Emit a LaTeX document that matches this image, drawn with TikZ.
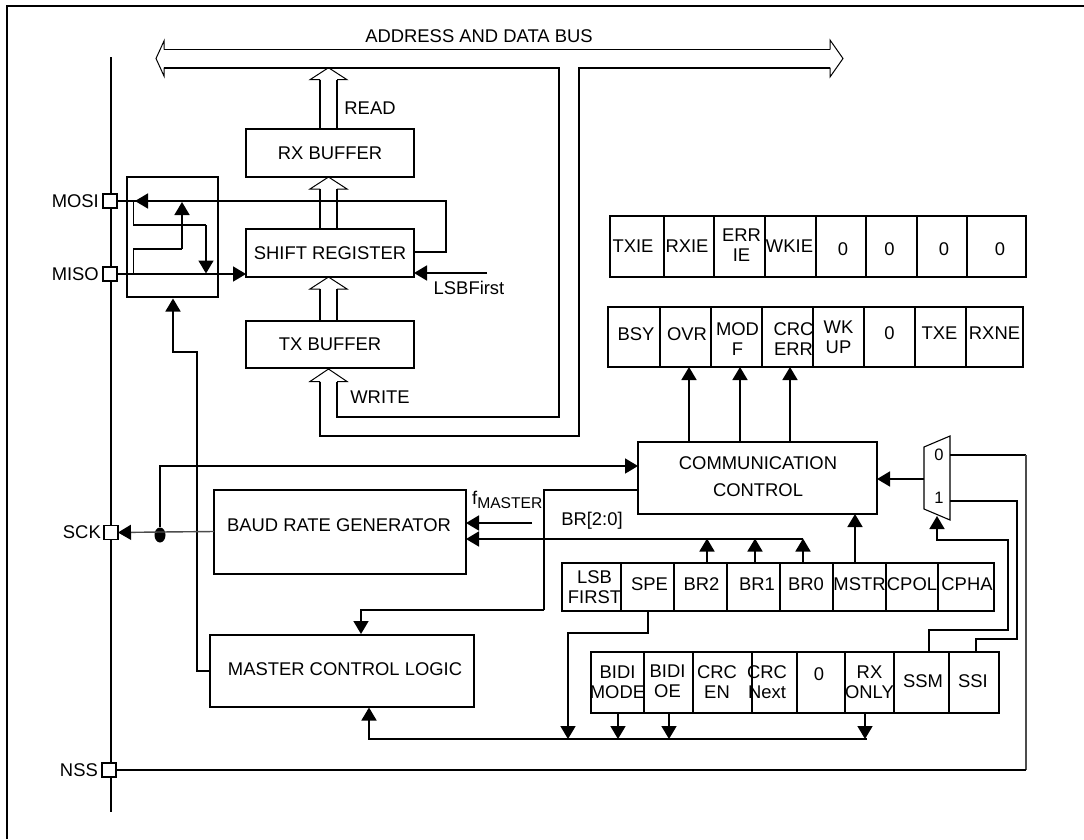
\documentclass[tikz,border=0pt]{standalone}
\usepackage{fontspec}
\setmainfont{Liberation Sans}
\usetikzlibrary{arrows.meta,calc,shapes.geometric}
\tikzset{
  wire/.style={line width=1.7pt,line join=miter},
  arr/.style={wire,-{Triangle[length=13pt,width=15pt]}},
  thinhead/.style={line width=1pt,line join=miter},
  txt/.style={font=\fontsize{18.4}{20}\selectfont,inner sep=0pt,align=center},
  boxn/.style={draw,line width=1.7pt,inner sep=0pt,outer sep=0pt,font=\fontsize{18.4}{20}\selectfont,align=center},
  cellbox/.style={draw,line width=1.7pt,inner sep=0pt,outer sep=0pt},
  pin/.style={draw,fill=white,line width=1.7pt,minimum size=14pt,inner sep=0pt,outer sep=0pt},
}
% name, x1, y1, x2, y2, extra options, dx, dy, text
\newcommand\regcell[9]{%
  \node[cellbox,#6,minimum width={(#4-#2)*1pt},minimum height={(#5-#3)*1pt},
    label={[txt,xshift=#7pt,yshift=#8pt,name=#1t]center:{#9}}]
    (#1) at ({(#2+#4)/2},{(#3+#5)/2}) {};}
\newcommand\fatup[2]{%
  \draw[wire] (sl |- #1) -- ($(sl |- #2)+(0,12)$);
  \draw[wire] (sr |- #1) -- ($(sr |- #2)+(0,12)$);
  \draw[thinhead] ($(sl |- #2)+(0,12)$) -- ++(-10,0) -- (sc |- #2) -- ($(sr |- #2)+(10,12)$) -- ++(-10,0);}
\begin{document}
\begin{tikzpicture}[x=1pt,y=-1pt]
\useasboundingbox (0,0) rectangle (1084,839);
% frame
\draw[wire] (7,839) -- (7,6) -- (1084,6);
% fat-arrow axes
\coordinate (sl) at (320,0); \coordinate (sc) at (328.5,0); \coordinate (sr) at (337,0);
% rail
\coordinate (railtop) at (111,57); \coordinate (railbot) at (111,812);
\draw[wire] (railtop) -- (railbot);
% main boxes
\node[boxn,minimum width=168pt,minimum height=48pt] (rx) at (330,153) {RX BUFFER};
\node[boxn,minimum width=168pt,minimum height=48pt] (sh) at (330,253) {SHIFT REGISTER};
\node[boxn,minimum width=168pt,minimum height=47pt] (tx) at (330,344.5) {TX BUFFER};
\node[draw,line width=1.7pt,minimum width=91pt,minimum height=120pt,inner sep=0pt,outer sep=0pt] (sw) at (172.5,237) {};
\node[boxn,minimum width=252pt,minimum height=84pt] (brg) at (340,532) {};
\node[txt] (brgt) at (339,525) {BAUD RATE GENERATOR};
\node[boxn,minimum width=264pt,minimum height=72pt] (mcl) at (342,671) {};
\node[txt] (mclt) at (345,669) {MASTER CONTROL LOGIC};
\node[boxn,minimum width=239pt,minimum height=72pt] (cc) at (757.5,478) {};
\node[txt,font=\fontsize{18.4}{27}\selectfont] (cct) at (758,476.5) {COMMUNICATION\\CONTROL};
% bus
\coordinate (bl) at (164,49.5); \coordinate (br) at (830,49.5);
\coordinate (cl) at (164,67.7); \coordinate (cr) at (830,67.7);
\coordinate (busin) at (559,67.7); \coordinate (busout) at (579,67.7);
\draw[wire] (bl) -- (br);
\draw[wire] (cl) -- (busin) -- (559,417) -- (337,417) -- (337,382);
\draw[wire] (cr) -- (busout) -- (579,436) -- (320,436) -- (320,382);
\draw[thinhead] (bl) -- (164,41) -- (156,58.5) -- (164,76) -- (cl);
\draw[thinhead] (br) -- (830,40) -- (843,58.5) -- (830,77) -- (cr);
\node[txt] (bust) at (479,36) {ADDRESS AND DATA BUS};
% fat arrows
\fatup{rx.north}{busin}
\fatup{sh.north}{rx.south}
\fatup{tx.north}{sh.south}
\draw[thinhead] (320,381.5) -- (310,381.5) -- (328.5,369) -- (347,381.5) -- (337,381.5);
\node[txt] (readt) at (370,108) {READ};
\node[txt] (writet) at (380,397) {WRITE};
% switch wiring
\coordinate (mosiin) at (135,201);
\coordinate (jt) at (133.5,201); \coordinate (jb) at (133.5,274);
\draw[wire] (jt) -- (133.5,225) -- (206,225);
\draw[arr] (206,225) -- (206,273.5);
\draw[wire] (jb) -- (133.5,249) -- (182,249);
\draw[arr] (182,249) -- (182,202);
\draw[wire] (sh.east |- 0,252) -- (446,252) -- (446,201) -- (mosiin);
\draw[wire] (103,201) -- (135,201);
\draw[arr] (446,201) -- (mosiin);
\draw[arr] (103,274) -- (sh.west |- 0,274);
\coordinate (lsb) at (487,273);
\draw[arr] (lsb) -- (sh.east |- lsb);
\node[txt] (lsbt) at (469,288) {LSBFirst};
% control to switch
\draw[arr] (mcl.west |- 0,671) -- (197,671) -- (197,352) -- (173,352) -- (173,298.5);
% SCK
\node[draw=none,fill=black,shape=ellipse,minimum width=11pt,minimum height=15pt,inner sep=0pt] (dot) at (160,535) {};
\coordinate (dotc) at (160,532);
\draw[line width=1.4pt,black!70] (brg.west |- 0,531.5) -- (dotc);
\draw[line width=1.4pt,black!70,-{Triangle[length=13pt,width=15pt,color=black,fill=black]}] (dotc) -- (118,532.5);
\draw[arr] (dot) -- (160,466) -- (cc.west |- 0,466);
\draw[wire] (cc.west |- 0,490) -- (544,490) -- (544,610);
\draw[arr] (544,610) -- (361,610) -- (361,634);
\draw[arr] (532,523) -- (brg.east |- 0,523);
\node[anchor=west,inner sep=0pt,font=\fontsize{18.4}{20}\selectfont] (fmt) at (472,500) {f\raisebox{-4pt}{\fontsize{15.6}{16}\selectfont MASTER}};
\coordinate (br0up) at (803,539);
\draw[arr] (br0up) -- (brg.east |- br0up);
\node[txt] (brt) at (592,521) {BR[2:0]};
% pins
\node[pin,label={[txt,anchor=east,xshift=-4pt]west:MOSI}] (mosi) at (110,201) {};
\node[pin,label={[txt,anchor=east,xshift=-4pt]west:MISO}] (miso) at (110,274) {};
\node[pin,label={[txt,anchor=east,xshift=-3pt]west:SCK}] (sck) at (111,532.5) {};
\node[pin,label={[txt,anchor=east,xshift=-4pt]west:NSS}] (nss) at (109,770) {};
% interrupt register
\regcell{rA}{610}{216}{664}{277}{}{-4}{0}{TXIE}
\regcell{rB}{664}{216}{714}{277}{}{-2}{0}{RXIE}
\regcell{rC}{714}{216}{765}{277}{}{2}{1}{ERR\\IE}
\regcell{rD}{765}{216}{816}{277}{}{-1}{0}{WKIE}
\regcell{rE}{816}{216}{866}{277}{}{2}{-3}{0}
\regcell{rF}{866}{216}{917}{277}{}{-2}{-3}{0}
\regcell{rG}{917}{216}{967}{277}{}{2}{-3}{0}
\regcell{rH}{967}{216}{1026}{277}{}{3.5}{-3}{0}
% status register
\regcell{sA}{608}{307}{660}{367}{}{2}{3}{BSY}
\regcell{sB}{660}{307}{711}{367}{}{1.5}{3}{OVR}
\regcell{sC}{711}{307}{762}{367}{}{1}{-2}{MOD\\F}
\regcell{sD}{762}{307}{813}{367}{}{6}{-2}{CRC\\ERR}
\regcell{sE}{813}{307}{864}{367}{fill=white}{0}{0}{WK\\UP}
\regcell{sF}{864}{307}{915}{367}{}{0}{4}{0}
\regcell{sG}{915}{307}{966}{367}{}{-1}{4}{TXE}
\regcell{sH}{966}{307}{1023}{367}{}{0}{4}{RXNE}
% control register 1
\regcell{cA}{562}{563}{621}{611}{}{3}{0}{LSB\\FIRST}
\regcell{cB}{621}{563}{674}{611}{}{2}{3}{SPE}
\regcell{cC}{674}{563}{727}{611}{}{1}{3}{BR2}
\regcell{cD}{727}{563}{780}{611}{}{3.5}{3}{BR1}
\regcell{cE}{780}{563}{833}{611}{}{-0.5}{3}{BR0}
\regcell{cF}{833}{563}{886}{611}{}{0}{3}{MSTR}
\regcell{cG}{886}{563}{938}{611}{}{0}{3}{CPOL}
\regcell{cH}{938}{563}{994}{611}{}{1}{3}{CPHA}
% control register 2
\regcell{dA}{591}{652}{644}{713}{}{0}{0}{BIDI\\MODE}
\regcell{dB}{644}{652}{693}{713}{}{-1}{1}{BIDI\\OE}
\regcell{dC}{693}{652}{752}{713}{}{-5.5}{0}{CRC\\EN}
\regcell{dD}{752}{652}{797}{713}{}{-7.5}{0}{CRC\\Next}
\regcell{dE}{797}{652}{845}{713}{}{-2}{8}{0}
\regcell{dF}{845}{652}{894}{713}{}{0}{0}{RX\\ONLY}
\regcell{dG}{894}{652}{949}{713}{}{1.5}{1}{SSM}
\regcell{dH}{949}{652}{999}{713}{}{-1}{1}{SSI}
% comm control to status
\coordinate (a1) at (689,0); \coordinate (a2) at (740,0); \coordinate (a3) at (790,0);
\foreach \a in {a1,a2,a3} \draw[arr] (\a |- cc.north) -- (\a |- sA.south);
% BR arrows
\foreach \xx in {707,755,803} \draw[arr] (\xx,563) -- (\xx,538.5);
\draw[arr] (cF.north -| 855,0) -- (cc.south -| 855,0);
% mux
\coordinate (m1) at (924,447); \coordinate (m2) at (950,436); \coordinate (m3) at (950,520); \coordinate (m4) at (924,509);
\draw[line width=1.1pt,fill=white] (m1) -- (m2) -- (m3) -- (m4) -- cycle;
\node[txt,font=\fontsize{16.5}{18}\selectfont] (mux0) at (939,455) {0};
\node[txt,font=\fontsize{16.5}{18}\selectfont] (mux1) at (939,498) {1};
\coordinate (mout) at (924,479);
\draw[arr] (mout) -- (cc.east |- mout);
\coordinate (m0o) at (950,455); \coordinate (m1o) at (950,501);
\draw[wire] (m0o) -- (1026,455);
\draw[line width=1.7pt,black!70] (1026,455) -- (1026,770);
\draw[wire] (1026,770) -- (nss.east);
\draw[wire] (m1o) -- (1017,501) -- (1017,639) -- (976,639) -- (976,652);
\draw[arr] (929,652) -- (929,630) -- (1008,630) -- (1008,540) -- (937,540) -- (937,516);
% bottom bus
\coordinate (bb) at (867,739);
\draw[arr] (bb) -- (369,739) -- (369,707.5);
\draw[arr] (648,611) -- (648,633) -- (568,633) -- (568,739);
\foreach \xx in {618,669,865} \draw[arr] (\xx,713) -- (\xx,739);
\end{tikzpicture}
\end{document}
